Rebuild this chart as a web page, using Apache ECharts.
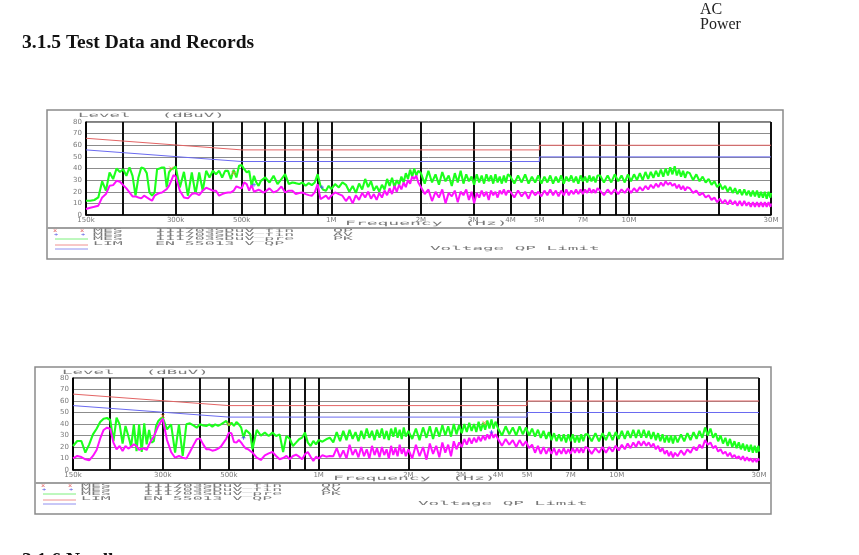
<!DOCTYPE html>
<html><head><meta charset="utf-8">
<script src="https://cdn.jsdelivr.net/npm/echarts@6/dist/echarts.min.js"></script>
<style>html,body{margin:0;padding:0;background:#fff}#c{width:859px;height:555px}</style>
</head><body><div id="c"></div>
<script>
// ---- sweep frequencies (MHz) shared by all traces ----
const freqMHz = [
 0.150,0.155,0.160,0.165,0.170,0.175,0.180,0.185,0.190,0.195,0.200,0.205,0.210,0.215,0.220,0.225,0.230,0.235,0.240,0.245,0.250,0.255,0.260,0.265,0.270,0.275,0.280,0.285,0.290,0.295,
 0.30,0.31,0.32,0.33,0.34,0.35,0.36,0.37,0.38,0.39,0.40,0.41,0.42,0.43,0.44,0.45,0.46,0.47,0.48,0.49,0.50,0.51,0.52,0.53,0.54,0.55,0.56,0.57,0.58,0.59,
 0.60,0.62,0.64,0.66,0.68,0.70,0.72,0.74,0.76,0.78,0.80,0.82,0.84,0.86,0.88,0.90,0.92,0.94,0.96,0.98,
 1.00,1.03,1.06,1.09,1.12,1.15,1.18,1.21,1.24,1.27,1.30,1.33,1.36,1.39,1.42,1.45,1.48,1.51,1.54,1.57,1.60,1.63,1.66,1.69,1.72,1.75,1.78,1.81,1.84,1.87,1.90,1.93,1.96,
 2.00,2.06,2.12,2.18,2.24,2.30,2.36,2.42,2.48,2.54,2.60,2.66,2.72,2.78,2.84,2.90,2.96,3.02,3.08,3.14,3.20,3.26,3.32,3.38,3.44,3.50,3.56,3.62,3.68,3.74,3.80,3.86,3.92,
 4.00,4.12,4.24,4.36,4.48,4.60,4.72,4.84,4.96,5.08,5.20,5.32,5.44,5.56,5.68,5.80,5.92,6.04,6.16,6.28,6.40,6.52,6.64,6.76,6.88,7.00,7.12,7.24,7.36,7.48,7.60,7.72,7.84,
 8.00,8.24,8.48,8.72,8.96,9.20,9.44,9.68,9.92,10.16,10.40,10.64,10.88,11.12,11.36,11.60,11.84,12.08,12.32,12.56,12.80,13.04,13.28,13.52,13.76,14.00,14.24,14.48,14.72,14.96,15.20,15.44,15.68,
 16.00,16.42,16.84,17.26,17.68,18.10,18.52,18.94,19.36,19.78,20.20,20.62,21.04,21.46,21.88,22.30,22.72,23.14,23.56,23.98,24.40,24.82,25.24,25.66,26.08,26.50,26.92,27.34,27.76,28.18,28.60,29.02,29.44,29.86,30.00
];

// ---- chart 1 (upper) traces, dBuV ----
const chart1Peak = [
 12.3,12.3,12.9,15.1,29,21,36.6,30.9,40,37,39.4,33.7,40.9,33.7,16.6,32.3,40.9,40,36,19.4,16.6,19.4,39.4,40,40.9,40.9,23.7,36.6,39.4,40,
 41.7,23.7,37.1,16.6,36.6,18,36.6,20.9,38,32.3,38,35.1,38,32.3,38,38,30.9,38.9,32.3,42.3,42.9,39.4,36.6,38,25,33.7,28,25,29.4,30.9,
 32.3,28,33.7,26.6,30.9,35.1,26.6,28,27.4,26.6,28,25.1,27.4,25.7,28,35.1,25.1,21.7,20.9,25.1,
 22.3,26.6,23.7,28,26,20,25,19,27,22,31,24,29,21,25,20,26,22,31,25,32,24,30,26,33,28,36,31,39,33,40,34,38,
 36,27,38,28,35,26,37,29,34,25,36,28,38,27,35,29,33,26,35,28,34,27,35,29,34,27,35,28,33,27,34,28,35,
 33,27,34,28,35,27,33,28,34,27,33,28,34,27,33,28,34,27,33,29,34,28,33,27,34,29,33,28,34,29,33,28,34,
 34,28,34,28,35,29,34,28,35,29,35,30,36,30,37,31,37,32,38,33,39,33,40,34,41,35,42,34,39,33,38,32,37,
 36,30,35,29,33,28,31,26,29,24,27,22,25,20,24,19,23,18,22,17,22,17,21,16,21,16,21,15,20,15,20,14,20,15,19
];
const chart1Avg = [
 5.1,6.3,7.1,8,15.1,18,25.1,25.7,29.4,28.6,25.7,22.9,19.4,16,16,15.1,14.3,16.6,15.1,13.7,12.3,16.6,18,18.9,19.4,20.9,22.3,25.1,29.4,34.3,
 33.1,20.9,15.1,14.3,18,18.9,17.1,20.9,23.4,22.3,20.9,20.9,16.6,18,18.9,19.4,19.4,20.9,24.6,23.7,22.9,28,26.6,20.9,25.7,20,20.9,21.7,20.9,19.4,
 20,22.9,19.4,20.9,24.6,19.4,20.9,20.9,18,18.9,19.4,18,17.1,16.6,19.4,26.6,13.7,15.1,16.6,13.7,
 16.6,19.4,18,16.6,12,16,10,17,13,19,15,20,14,18,13,19,15,21,17,23,18,25,20,26,22,28,24,30,27,33,31,34,28,
 24,18,22,12,20,15,22,10,19,16,21,11,20,17,22,13,20,10,19,15,21,16,20,13,21,17,20,15,21,18,22,17,21,
 20,15,21,16,20,14,21,17,20,16,21,17,22,17,21,16,21,17,22,17,21,18,22,18,22,18,22,19,23,19,22,19,23,
 21,17,22,18,22,18,22,19,23,19,23,20,24,21,25,22,26,23,27,24,28,25,29,26,28,25,27,23,26,22,25,21,24,
 23,19,21,17,19,15,17,13,15,11,14,10,13,9,13,9,12,8,12,8,12,8,11,7,11,7,11,7,11,7,11,7,11,7,10
];

// ---- chart 2 (lower) traces, dBuV ----
const chart2Peak = [
 20.9,25.2,25.2,15.1,22.3,31,35.9,41.7,44.6,45.2,43.5,25.2,45.5,39.7,22.9,38.3,29.6,20.3,39.7,16.5,39.7,15.7,40.6,22.3,34.8,23.8,25.2,38.3,42.6,44.6,
 45.5,35.4,39.7,15.1,39.7,12.2,39.7,40.6,38.8,36.8,39.7,38.8,38.3,39.7,37.7,39.7,38.3,39.7,41.2,42.6,38.8,41.2,38.3,41.7,39.7,36.8,28.1,34.8,33,31,
 18,34.8,29.9,32.5,29.6,32.5,29.6,31,15.7,29.6,27.2,20.9,23.8,26.7,28.1,32.5,23.8,20.9,25.2,22.3,
 26.1,24.6,26.7,28.1,24,33,25,34,26,35,27,33,25,34,27,36,28,34,26,35,28,36,27,34,26,36,29,37,28,35,27,37,29,
 34,27,36,26,37,28,38,27,37,29,39,30,38,29,40,31,39,32,40,33,41,34,40,33,42,34,41,35,43,36,44,36,42,
 36,30,38,31,37,30,38,31,37,30,36,29,35,28,34,27,33,26,32,25,31,25,31,24,31,25,31,24,30,24,31,25,31,
 31,25,32,25,32,26,33,26,33,27,34,27,34,28,35,28,35,28,35,28,34,27,33,26,32,25,31,24,30,24,30,23,30,
 24,31,25,32,26,33,27,34,28,37,30,36,28,32,25,30,23,28,21,27,20,25,19,24,18,23,17,22,16,22,15,21,15,21,16
];
const chart2Avg = [
 10.1,12.2,11.3,9.3,8.4,12.2,17.4,27.2,34.8,36.8,35.9,23.8,18,20.9,16.5,20.9,18.6,20.3,22.3,20.9,17.4,18.6,18.6,17.4,22.3,26.1,29,33.9,38.3,41.7,
 44.6,26.1,15.7,10.7,12.2,10.7,9.9,15.7,21.4,26.7,27.5,22.3,18,18,16.8,17.4,18.6,20.3,23.8,27.2,32.5,31.9,24.3,23.8,26.1,23.8,20.9,18.6,18,16.5,
 15.1,10.7,8.7,12.8,14.5,15.7,12.2,9.3,10.4,12.2,9.3,12.2,13.3,11.6,9.3,13.6,15.7,11.6,7.8,11.6,
 9.9,12.8,11.6,12.2,12,19,11,17,10,22,13,18,11,20,12,18,10,21,13,19,11,20,13,18,10,21,13,19,12,22,14,19,12,
 18,10,22,12,20,9,23,14,21,11,24,15,22,12,25,18,24,20,27,22,28,23,28,24,29,25,30,26,31,27,33,28,31,
 27,21,27,22,26,20,26,21,25,19,22,15,21,14,20,14,19,14,19,13,18,14,19,14,18,14,19,15,19,15,19,15,20,
 19,14,19,15,20,15,20,16,21,17,22,18,23,19,24,20,25,21,25,21,24,20,23,18,21,16,19,14,17,12,16,11,15,
 12,17,13,18,15,20,17,22,19,26,22,24,19,21,16,18,14,16,12,15,11,13,10,12,9,12,8,11,8,10,7,10,7,10,8
];

// ---- limits (EN 55022 class B style) ----
const limitFreqMHz = [0.15, 0.5, 5, 5, 30];
const qpLimit = [66, 56, 56, 60, 60];
const avLimit = [56, 46, 46, 50, 50];

// ---- final measurement marks ----
const chart1QpFinalF = [0.29, 0.47];
const chart1QpFinal  = [40, 36];
const chart1AvFinalF = [0.55, 0.93];
const chart1AvFinal  = [26, 24];
const chart2QpFinalF = [0.30, 0.50, 3.6];
const chart2QpFinal  = [47, 40, 41];
const chart2AvFinalF = [0.56, 3.8];
const chart2AvFinal  = [28, 33];

// ---- axes ----
const gridFreqMHz = [0.15,0.2,0.3,0.4,0.5,0.6,0.7,0.8,0.9,1,2,3,4,5,6,7,8,9,10,20,30];
const tickFreqMHz = [0.15,0.3,0.5,1,2,3,4,5,7,10,30];
const tickLabels  = ['150k','300k','500k','1M','2M','3M','4M','5M','7M','10M','30M'];
const levelTicks  = [0,10,20,30,40,50,60,70,80];

const GREEN = '#1cff1c', MAGENTA = '#ff10ff', QPRED = '#e36464', AVBLUE = '#6a6af0';
const TXT = '#7a7a7a';

function pts(fs, vs) { return fs.map((f, i) => [f, vs[i]]); }
function labelFor(v) {
  let best = 0, bd = Infinity;
  tickFreqMHz.forEach((t, i) => { const d = Math.abs(Math.log(v) - Math.log(t)); if (d < bd) { bd = d; best = i; } });
  return tickLabels[best];
}
function mkX(i) {
  return {
    type: 'log', logBase: 10, gridIndex: i, min: 0.15, max: 30,
    axisLine: { show: true, onZero: false, lineStyle: { color: '#000', width: 1.5 } },
    axisTick: { show: false, customValues: gridFreqMHz },
    axisLabel: { show: true, customValues: tickFreqMHz, formatter: labelFor, fontSize: 7,
                 color: TXT, margin: 2, fontFamily: 'DejaVu Sans' },
    splitLine: { show: true, lineStyle: { color: '#111', width: 2 } },
    minorTick: { show: false }, minorSplitLine: { show: false }
  };
}
function mkY(i) {
  return {
    type: 'value', gridIndex: i, min: levelTicks[0], max: levelTicks[levelTicks.length - 1], interval: 10,
    axisLine: { show: true, lineStyle: { color: '#000', width: 1.5 } },
    axisTick: { show: false },
    axisLabel: { fontSize: 7, color: TXT, margin: 4, fontFamily: 'DejaVu Sans' },
    splitLine: { show: true, lineStyle: { color: '#8c8c8c', width: 1 } }
  };
}
function traceSeries(ax, peak, avg, qf, qv, af, av) {
  return [
    { type: 'line', xAxisIndex: ax, yAxisIndex: ax, data: pts(freqMHz, peak), symbol: 'none',
      lineStyle: { color: GREEN, width: 2.1 }, itemStyle: { color: GREEN }, z: 3, silent: true },
    { type: 'line', xAxisIndex: ax, yAxisIndex: ax, data: pts(freqMHz, avg), symbol: 'none',
      lineStyle: { color: MAGENTA, width: 2 }, itemStyle: { color: MAGENTA }, z: 4, silent: true },
    { type: 'line', xAxisIndex: ax, yAxisIndex: ax, data: pts(limitFreqMHz, qpLimit), symbol: 'none',
      lineStyle: { color: QPRED, width: 1 }, z: 5, silent: true },
    { type: 'line', xAxisIndex: ax, yAxisIndex: ax, data: pts(limitFreqMHz, avLimit), symbol: 'none',
      lineStyle: { color: AVBLUE, width: 1 }, z: 5, silent: true },
    { type: 'scatter', xAxisIndex: ax, yAxisIndex: ax, data: pts(qf, qv),
      symbol: 'path://M0,0L10,10M10,0L0,10', symbolSize: 4,
      itemStyle: { color: 'none', borderColor: '#ff7a3a', borderWidth: 1 }, z: 6, silent: true },
    { type: 'scatter', xAxisIndex: ax, yAxisIndex: ax, data: pts(af, av),
      symbol: 'path://M5,0L5,10M0,5L10,5', symbolSize: 4,
      itemStyle: { color: 'none', borderColor: '#4a4aff', borderWidth: 1 }, z: 6, silent: true }
  ];
}

// ---- decorations (frame, small texts, legend table) ----
function T(x, y, text, opt) {
  opt = opt || {};
  return { type: 'text', x: x, y: y, scaleX: opt.sx || 3.3, silent: true, z: 10,
    style: { text: text, fill: opt.fill || TXT, fontSize: opt.fs || 5,
             fontFamily: opt.ff || 'DejaVu Sans Mono', fontWeight: opt.fw || 'normal',
             verticalAlign: opt.va || 'middle', textVerticalAlign: opt.va || 'middle' } };
}
function L(x1, y1, x2, y2, stroke, w) {
  return { type: 'line', silent: true, z: 10, shape: { x1: x1, y1: y1, x2: x2, y2: y2 },
           style: { stroke: stroke, lineWidth: w } };
}
function decor(c) {
  const g = [];
  g.push({ type: 'rect', silent: true, z: 9, shape: { x: c.bx, y: c.by, width: c.bw, height: c.bh },
           style: { fill: 'none', stroke: '#8a8a8a', lineWidth: 1.5 } });
  g.push(L(c.bx, c.sep, c.bx + c.bw, c.sep, '#a0a0a0', 2));
  g.push(T(c.lvX, c.lvY, 'Level   (dBuV)', { fs: 6, sx: 2.9 }));
  g.push(T(c.fqX, c.fqY, 'Frequency  (Hz)', { fs: 6, sx: 3.0 }));
  const dx = c.dx, r = c.row;
  // row 1: QP final marks
  g.push(T(53 + dx, r, 'x', { fill: '#e05050', sx: 1.4 }));
  g.push(T(80 + dx, r, 'x', { fill: '#e05050', sx: 1.4 }));
  g.push(T(93 + dx, r, 'MES'));
  g.push(T(155 + dx, r, '111703SDuV_fin'));
  g.push(T(333 + dx, r, 'QP'));
  // row 2: AV final marks
  g.push(T(54 + dx, r + 4, '+', { fill: '#5050e0', sx: 1.4 }));
  g.push(T(81 + dx, r + 4, '+', { fill: '#5050e0', sx: 1.4 }));
  g.push(T(93 + dx, r + 4, 'MES'));
  g.push(T(155 + dx, r + 4, '111703SDuV_fin'));
  g.push(T(333 + dx, r + 4, 'AV'));
  // row 3: peak scan
  g.push(L(55 + dx, r + 8.5, 88 + dx, r + 8.5, '#7cf07c', 1));
  g.push(T(93 + dx, r + 8, 'MES'));
  g.push(T(155 + dx, r + 8, '111703SDuV_pre'));
  g.push(T(333 + dx, r + 8, 'PK'));
  // row 4/5: limits
  g.push(L(55 + dx, r + 14.5, 88 + dx, r + 14.5, '#f09090', 1));
  g.push(T(93 + dx, r + 13, 'LIM'));
  g.push(T(155 + dx, r + 13, 'EN 55013 V QP'));
  g.push(L(55 + dx, r + 18.5, 88 + dx, r + 18.5, '#9090f0', 1));
  g.push(T(430 + dx, r + 18, 'Voltage QP Limit', { fs: 5.5, sx: 3.2 }));
  return g;
}

const graphics = [
  { type: 'text', x: 700, y: 2, silent: true,
    style: { text: 'AC', fill: '#222', fontSize: 16, fontFamily: 'Liberation Serif', verticalAlign: 'top', textVerticalAlign: 'top' } },
  { type: 'text', x: 700, y: 17, silent: true,
    style: { text: 'Power', fill: '#222', fontSize: 16, fontFamily: 'Liberation Serif', verticalAlign: 'top', textVerticalAlign: 'top' } },
  { type: 'text', x: 22, y: 43, silent: true,
    style: { text: '3.1.5 Test Data and Records', fill: '#111', fontSize: 19.5, fontWeight: 'bold',
             fontFamily: 'Liberation Serif', verticalAlign: 'middle', textVerticalAlign: 'middle' } },
  { type: 'text', x: 22, y: 551, silent: true,
    style: { text: '3.1.6 Needle', fill: '#111', fontSize: 19.5, fontWeight: 'bold',
             fontFamily: 'Liberation Serif', verticalAlign: 'top', textVerticalAlign: 'top' } }
].concat(
  decor({ bx: 47, by: 110, bw: 736, bh: 149, sep: 228, lvX: 78, lvY: 115, fqX: 345, fqY: 223, dx: 0, row: 230.5 }),
  decor({ bx: 35, by: 367, bw: 736, bh: 147, sep: 483, lvX: 62, lvY: 372, fqX: 333, fqY: 478, dx: -12, row: 485.5 })
);

const chart = echarts.init(document.getElementById('c'), null, { renderer: 'canvas' });
chart.setOption({
  animation: false,
  backgroundColor: '#fff',
  grid: [
    { left: 86, top: 122, width: 685, height: 93, show: true, borderColor: '#000', borderWidth: 1, backgroundColor: 'transparent' },
    { left: 73, top: 378, width: 686, height: 92, show: true, borderColor: '#000', borderWidth: 1, backgroundColor: 'transparent' }
  ],
  xAxis: [mkX(0), mkX(1)],
  yAxis: [mkY(0), mkY(1)],
  series: [].concat(
    traceSeries(0, chart1Peak, chart1Avg, chart1QpFinalF, chart1QpFinal, chart1AvFinalF, chart1AvFinal),
    traceSeries(1, chart2Peak, chart2Avg, chart2QpFinalF, chart2QpFinal, chart2AvFinalF, chart2AvFinal)
  ),
  graphic: graphics
});
</script>
</body></html>
